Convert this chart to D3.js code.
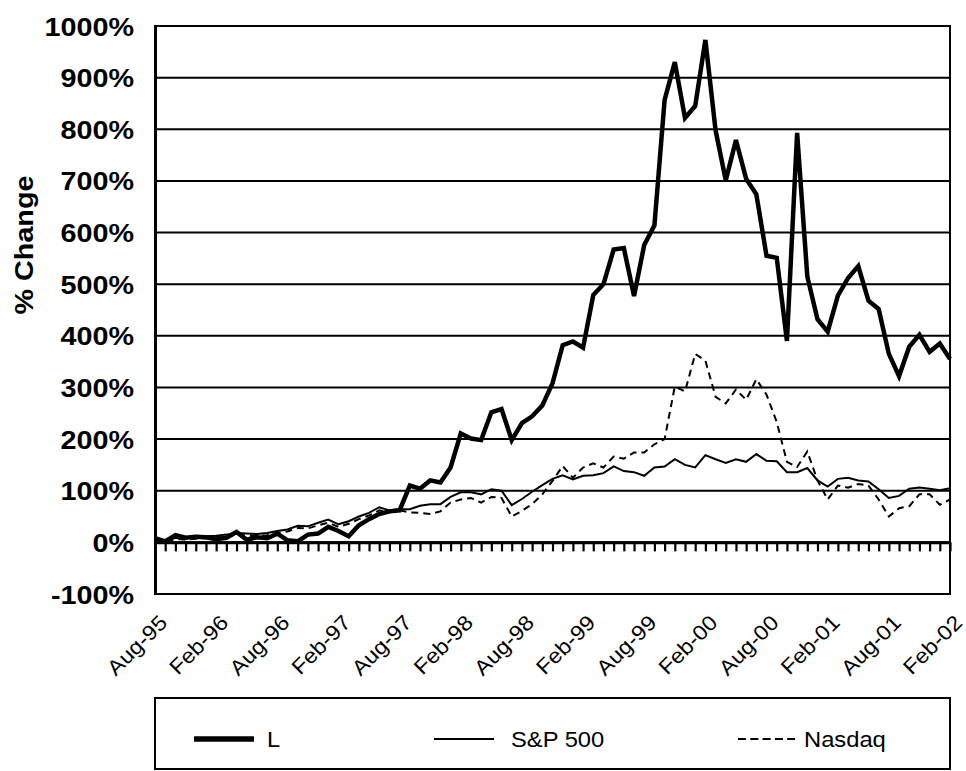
<!DOCTYPE html>
<html>
<head>
<meta charset="utf-8">
<script src="https://cdn.jsdelivr.net/npm/d3@7"></script>
<style>
    body { margin: 0; background: #fff; }
    text { font-family: Arial, 'Liberation Sans', sans-serif; fill: #000; }
</style>
</head>
<body>
<div class="line-chart-container"></div>
<script>
// Data
const lValues = [
    8, 2, 14, 9, 11, 10, 6, 9, 20, 5,
    10, 8, 17, 4, 2, 15, 17, 30, 22, 12,
    33, 45, 55, 60, 62, 110, 104, 120, 116, 145,
    211, 201, 198, 252, 258, 198, 231, 244, 265, 308,
    382, 389, 377, 479, 500, 567, 570, 477, 576, 614,
    857, 930, 822, 845, 973, 798, 701, 779, 704, 674,
    555, 551, 390, 793, 515, 432, 408, 478, 512, 535,
    468, 452, 365, 322, 379, 402, 369, 385, 355
];

const spValues = [
    5, 2, 9, 8, 10, 12, 13, 15, 18, 17,
    16, 18, 22, 25, 32, 31, 38, 44, 35, 41,
    50, 57, 68, 62, 64, 64, 71, 74, 74, 88,
    97, 97, 93, 103, 100, 72, 84, 98, 111, 123,
    130, 122, 129, 130, 134, 147, 138, 136, 129, 145,
    147, 161, 150, 145, 169, 161, 154, 161, 156, 171,
    158, 157, 136, 136, 144, 120, 108, 123, 125, 120,
    118, 103, 86, 90, 104, 106, 104, 101, 105
];

const nasdaqValues = [
    3, 0, 7, 5, 7, 8, 10, 12, 15, 13,
    12, 14, 18, 21, 28, 27, 33, 38, 30, 36,
    45, 52, 62, 58, 62, 58, 57, 55, 60, 77,
    83, 86, 77, 88, 86, 50, 61, 74, 93, 119,
    148, 125, 145, 153, 145, 166, 162, 174, 174, 190,
    200, 302, 292, 365, 352, 282, 269, 296, 276, 316,
    286, 233, 156, 146, 176, 120, 83, 110, 106, 113,
    110, 83, 50, 66, 70, 93, 93, 73, 83
];

const xTickLabels = [
    'Aug-95', 'Feb-96', 'Aug-96', 'Feb-97', 'Aug-97', 'Feb-98', 'Aug-98',
    'Feb-99', 'Aug-99', 'Feb-00', 'Aug-00', 'Feb-01', 'Aug-01', 'Feb-02'
];

const yTicks = [-100, 0, 100, 200, 300, 400, 500, 600, 700, 800, 900, 1000];

const seriesNames = ['L', 'S&P 500', 'Nasdaq'];

// Monthly categories, Aug-95 .. Feb-02
const formatMonth = d3.timeFormat('%b-%y');
const months = d3.timeMonths(new Date(1995, 7, 1), new Date(2002, 2, 1)).map(formatMonth);

const series = [
    {name: seriesNames[0], values: lValues, width: 4.5, keyWidth: 5.5, dash: null},
    {name: seriesNames[1], values: spValues, width: 2, keyWidth: 2, dash: null},
    {name: seriesNames[2], values: nasdaqValues, width: 2, keyWidth: 2, dash: '7,5'}
];

// Margin convention
const margin = {top: 26, right: 16, bottom: 177, left: 155};
const width = 966 - margin.left - margin.right;
const height = 771 - margin.top - margin.bottom;

// Scales
const xScale = d3.scalePoint()
    .domain(months)
    .range([0, width]);

const yScale = d3.scaleLinear()
    .domain([-100, 1000])
    .range([height, 0]);

// Draw base
const svg = d3.select('.line-chart-container')
    .append('svg')
    .attr('width', width + margin.left + margin.right)
    .attr('height', height + margin.top + margin.bottom)
    .append('g')
    .attr('transform', `translate(${margin.left}, ${margin.top})`);

// Gridlines
svg.append('g')
    .attr('class', 'grid')
    .selectAll('line')
    .data(yTicks)
    .join('line')
    .attr('x1', 0)
    .attr('x2', width)
    .attr('y1', d => yScale(d))
    .attr('y2', d => yScale(d))
    .style('stroke', '#000')
    .style('stroke-width', 2);

// Plot border
svg.append('rect')
    .attr('width', width)
    .attr('height', height)
    .style('fill', 'none')
    .style('stroke', '#000')
    .style('stroke-width', 2);

// Y axis
const yAxisDraw = svg.append('g')
    .attr('class', 'y axis')
    .call(d3.axisLeft(yScale).tickValues(yTicks).tickSize(0).tickFormat(d => d + '%'));

yAxisDraw.select('.domain')
    .style('stroke', '#000')
    .style('stroke-width', 3);

yAxisDraw.selectAll('text')
    .attr('x', null)
    .attr('dy', '0.36em')
    .attr('transform', 'translate(-21, 0) scale(1.15, 1)')
    .style('font-size', '25px')
    .style('font-weight', 'bold')
    .style('font-family', 'Arial, Liberation Sans, sans-serif');

// Zero axis with category ticks
const zeroAxis = svg.append('g')
    .attr('class', 'x axis zero')
    .attr('transform', `translate(0, ${yScale(0)})`)
    .call(d3.axisBottom(xScale).tickSizeInner(9).tickSizeOuter(0).tickFormat(''));

zeroAxis.select('.domain').style('stroke-width', 3);
zeroAxis.selectAll('.tick line').style('stroke-width', 2.2);

// X labels along the bottom
const xAxisDraw = svg.append('g')
    .attr('class', 'x axis labels')
    .attr('transform', `translate(0, ${height})`)
    .call(d3.axisBottom(xScale).tickValues(xTickLabels).tickSize(0));

xAxisDraw.select('.domain').remove();
xAxisDraw.selectAll('text')
    .attr('y', null)
    .attr('dy', null)
    .attr('transform', 'translate(13, 30) rotate(-45) scale(1.1, 1)')
    .style('text-anchor', 'end')
    .style('font-size', '21px')
    .style('font-family', 'Arial, Liberation Sans, sans-serif');

// Title
svg.append('text')
    .attr('transform', `translate(${33 - margin.left}, ${245 - margin.top}) rotate(-90) scale(1.15, 1)`)
    .style('text-anchor', 'middle')
    .style('font-size', '25px')
    .style('font-weight', 'bold')
    .text('% Change');

// Lines
const line = d3.line()
    .x((d, i) => xScale(months[i]))
    .y(d => yScale(d));

svg.append('g')
    .attr('class', 'lines')
    .selectAll('path')
    .data(series)
    .join('path')
    .attr('d', d => line(d.values))
    .style('fill', 'none')
    .style('stroke', '#000')
    .style('stroke-width', d => d.width)
    .style('stroke-dasharray', d => d.dash)
    .style('stroke-linejoin', 'miter');

// Legend
const legend = svg.append('g')
    .attr('class', 'legend')
    .attr('transform', `translate(0, ${698 - margin.top})`);

legend.append('rect')
    .attr('width', width)
    .attr('height', 71)
    .style('fill', '#fff')
    .style('stroke', '#000')
    .style('stroke-width', 2);

const legendX = [39, 279, 583];
const legendTextX = [73, 77, 66];

const item = legend.selectAll('.item')
    .data(series)
    .join('g')
    .attr('class', 'item')
    .attr('transform', (d, i) => `translate(${legendX[i]}, 41)`);

item.append('line')
    .attr('x1', 0)
    .attr('x2', (d, i) => i === 2 ? 57 : 60)
    .style('stroke', '#000')
    .style('stroke-width', d => d.keyWidth)
    .style('stroke-dasharray', (d, i) => i === 2 ? '8,4.3' : null);

item.append('text')
    .attr('x', 0)
    .attr('dy', '0.36em')
    .attr('transform', (d, i) => `translate(${legendTextX[i]}, 0) scale(1.08, 1)`)
    .style('font-size', '22px')
    .text(d => d.name);
</script>
</body>
</html>
